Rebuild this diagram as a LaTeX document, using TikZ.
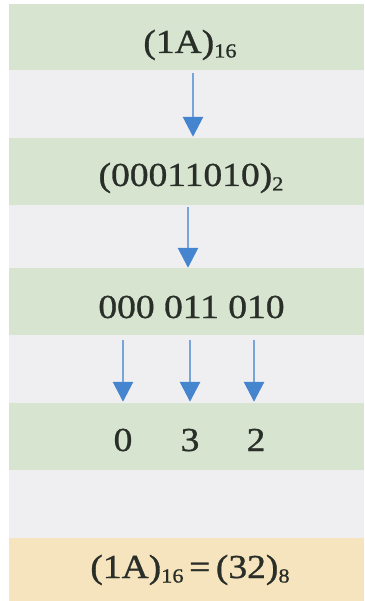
\documentclass[tikz,border=0pt]{standalone}
\usepackage{fontspec}
\setmainfont{Liberation Serif}[FakeStretch=1.12,FakeBold=0.9]
\usetikzlibrary{arrows.meta}
\definecolor{bandgreen}{HTML}{D7E5D0}
\definecolor{bandlight}{HTML}{EFEFF1}
\definecolor{bandbeige}{HTML}{F5E4BD}
\definecolor{arrline}{HTML}{78A5D9}
\definecolor{arrhead}{HTML}{4585CF}
\definecolor{txt}{HTML}{2A2E28}
\newcommand\mysub[1]{\raisebox{-4.5pt}{\fontsize{20}{20}\selectfont #1}}
\begin{document}
\begin{tikzpicture}[x=1pt,y=1pt,
  band/.style={rectangle,draw=none,inner sep=0pt,minimum width=355pt},
  lbl/.style={anchor=base,inner sep=0pt,text=txt,font=\fontsize{33.5}{38}\selectfont},
  arr/.style={draw=arrline,line width=2.8pt,-{Triangle[length=20pt,width=20pt,color=arrhead]}}]
\useasboundingbox (0,0) rectangle (364,-601);
\fill[white] (0,0) rectangle (364,-601);
% bands
\node[band,fill=bandgreen,minimum height=66pt] (g1) at (186.5,-37) {};
\node[band,fill=bandlight,minimum height=68pt] (l1) at (186.5,-104) {};
\node[band,fill=bandgreen,minimum height=67pt] (g2) at (186.5,-171.5) {};
\node[band,fill=bandlight,minimum height=63pt] (l2) at (186.5,-236.5) {};
\node[band,fill=bandgreen,minimum height=67pt] (g3) at (186.5,-301.5) {};
\node[band,fill=bandlight,minimum height=68pt] (l3) at (186.5,-369) {};
\node[band,fill=bandgreen,minimum height=67pt] (g4) at (186.5,-436.5) {};
\node[band,fill=bandlight,minimum height=68pt] (l4) at (186.5,-504) {};
\node[band,fill=bandbeige,minimum height=63pt] (b) at (186.5,-569.5) {};
% texts
\node[lbl] (t1) at (190,-53) {(1A)\mysub{16}};
\node[lbl] (t2) at (191,-186) {(00011010)\mysub{2}};
\node[lbl] (t3) at (191.5,-318) {000 011 010};
\node[lbl] (d0) at (123,-451) {0};
\node[lbl] (d3) at (190,-451) {3};
\node[lbl] (d2) at (256,-451) {2};
\node[lbl] (res) at (190,-578) {(1A)\mysub{16}\,=\,(32)\mysub{8}};
% arrows
\draw[arr,shorten <=3pt,shorten >=1pt] ([xshift=6.5pt]g1.south) -- ([xshift=6.5pt]g2.north);
\draw[arr,shorten <=2pt] ([xshift=1.5pt]g2.south) -- ([xshift=1.5pt]g3.north);
\draw[arr,shorten <=5pt,shorten >=1pt] ([xshift=-63.5pt]g3.south) -- ([xshift=-63.5pt]g4.north);
\draw[arr,shorten <=5pt,shorten >=1pt] ([xshift=3.5pt]g3.south) -- ([xshift=3.5pt]g4.north);
\draw[arr,shorten <=5pt,shorten >=1pt] ([xshift=67.5pt]g3.south) -- ([xshift=67.5pt]g4.north);
\end{tikzpicture}
\end{document}
